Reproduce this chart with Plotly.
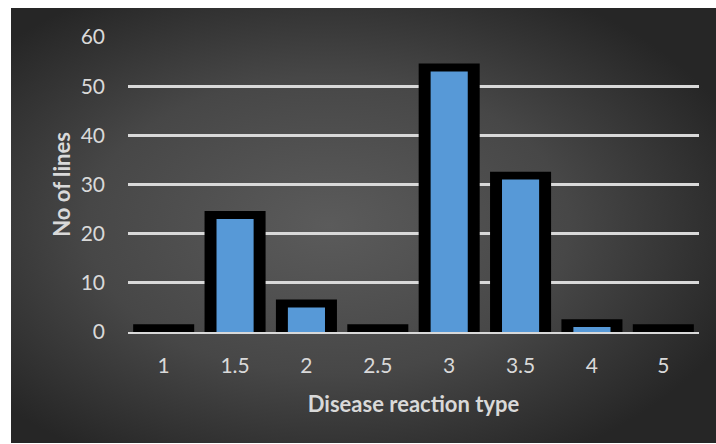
import base64
import plotly.graph_objects as go

categories = ["1", "1.5", "2", "2.5", "3", "3.5", "4", "5"]
no_of_lines = [0, 23, 5, 0, 53, 31, 1, 0]
y_ticks = [0, 10, 20, 30, 40, 50, 60]

x_title = "Disease reaction type"
y_title = "No of lines"

# style constants
border_pad = 1.6  # thickness of black frame above bar top, in data units
text_col = "#d9d9d9"
font_fam = "Lato, 'Open Sans', sans-serif"

W, H = 716, 444
L, R, T, B = 128, 17, 37, 112
pw, ph = W - L - R, H - T - B

svg = f'''<svg xmlns="http://www.w3.org/2000/svg" width="705" height="435" viewBox="0 0 705 435" preserveAspectRatio="none">
<defs><radialGradient id="g" cx="0.45" cy="0.5" r="0.62" fx="0.45" fy="0.5">
<stop offset="0" stop-color="#5b5b5b"/><stop offset="0.55" stop-color="#474747"/><stop offset="1" stop-color="#262626"/>
</radialGradient></defs><rect width="705" height="435" fill="url(#g)"/></svg>'''
bg_uri = "data:image/svg+xml;base64," + base64.b64encode(svg.encode()).decode()

frame_vals = [v + border_pad for v in no_of_lines]

fig = go.Figure()
fig.add_trace(go.Bar(x=categories, y=frame_vals, width=0.855,
                     marker=dict(color="#000000", line=dict(width=0)),
                     hoverinfo="skip", showlegend=False))
fig.add_trace(go.Bar(x=categories, y=no_of_lines, width=0.52,
                     marker=dict(color="#5799d7", line=dict(width=0)),
                     showlegend=False))

x0 = (11 - L) / pw
y0 = 1 + (T - 8) / ph
fig.add_layout_image(dict(source=bg_uri, xref="paper", yref="paper",
                          x=x0, y=y0, sizex=(W - 11) / pw, sizey=(443 - 8) / ph,
                          xanchor="left", yanchor="top", sizing="stretch", layer="below"))

fig.update_layout(
    width=W, height=H, barmode="overlay",
    margin=dict(l=L, r=R, t=T, b=B),
    paper_bgcolor="white", plot_bgcolor="rgba(0,0,0,0)",
    font=dict(family=font_fam, color=text_col, size=21),
)
fig.update_xaxes(type="category", showgrid=False, showline=True, linecolor=text_col,
                 linewidth=2, layer="above traces", ticks="", ticklabelstandoff=14,
                 tickfont=dict(size=21, color=text_col),
                 title=dict(text=f"<b>{x_title}</b>", font=dict(size=22, color=text_col), standoff=20))
fig.update_yaxes(range=[0, 60], tickvals=y_ticks, showgrid=True, gridcolor=text_col, gridwidth=2.5,
                 zeroline=False, showline=False, ticks="", ticklabelstandoff=22,
                 tickfont=dict(size=21, color=text_col),
                 title=dict(text=f"<b>{y_title}</b>", font=dict(size=22, color=text_col), standoff=3))

fig.write_html("out.html")
